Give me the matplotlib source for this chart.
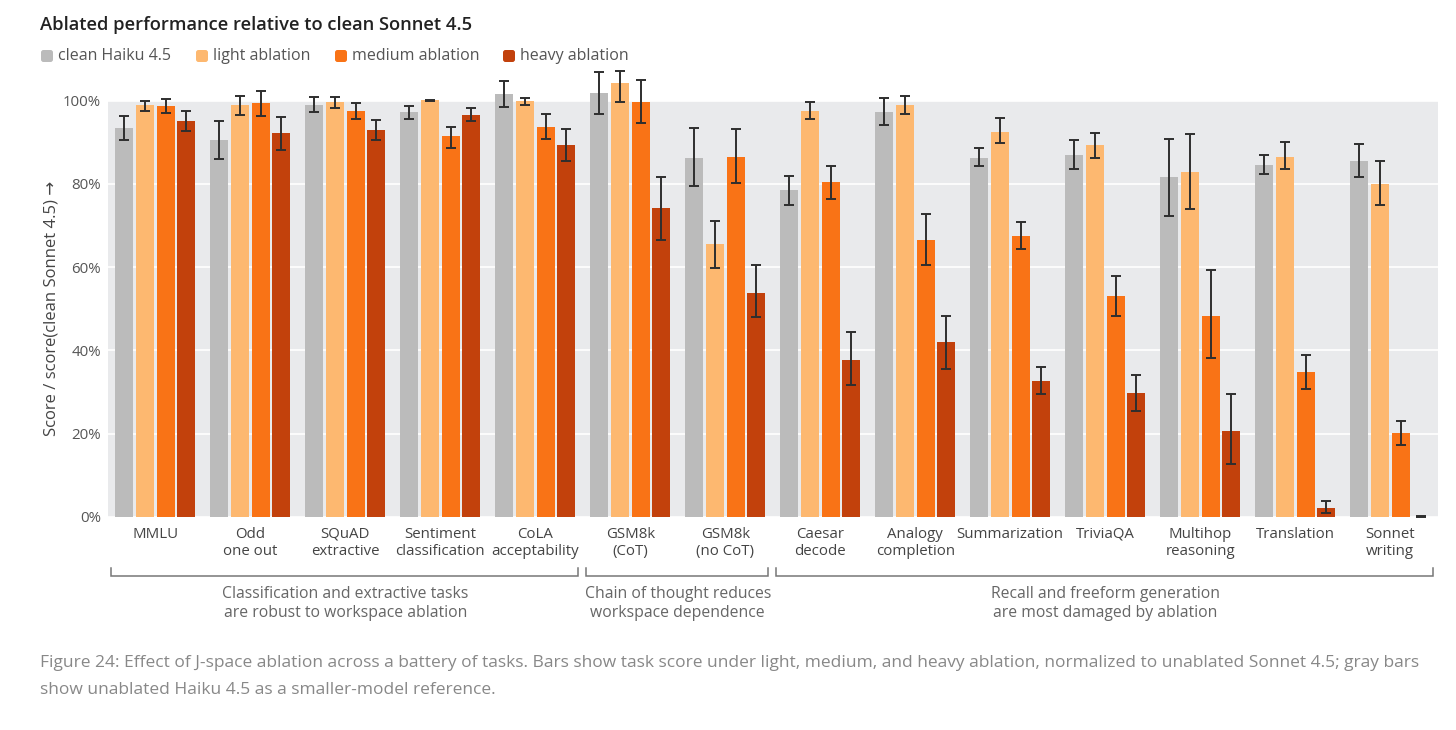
import matplotlib
matplotlib.use("Agg")
import matplotlib.pyplot as plt
from matplotlib.patches import FancyBboxPatch
import numpy as np

plt.rcParams['font.family'] = ['Open Sans', 'DejaVu Sans']

# ---------------- data ----------------
tasks = ["MMLU", "Odd\none out", "SQuAD\nextractive", "Sentiment\nclassification",
         "CoLA\nacceptability", "GSM8k\n(CoT)", "GSM8k\n(no CoT)", "Caesar\ndecode",
         "Analogy\ncompletion", "Summarization", "TriviaQA", "Multihop\nreasoning",
         "Translation", "Sonnet\nwriting"]

series_names = ["clean Haiku 4.5", "light ablation", "medium ablation", "heavy ablation"]
series_colors = ["#bbbbbb", "#fdb870", "#f97316", "#c2410c"]

# values in percent of clean Sonnet 4.5
haiku_val = [93.3, 90.5, 98.9, 97.2, 101.6, 101.8, 86.2, 78.4, 97.2, 86.3, 86.9, 81.7, 84.6, 85.4]
haiku_lo  = [90.5, 85.9, 97.2, 95.6, 98.4, 96.8, 79.5, 75.0, 94.0, 84.3, 83.6, 72.3, 82.4, 81.7]
haiku_hi  = [96.2, 95.1, 100.8, 98.6, 104.8, 106.9, 93.3, 81.9, 100.7, 88.7, 90.5, 90.8, 86.9, 89.6]

light_val = [98.9, 98.9, 99.6, 100.1, 99.9, 104.1, 65.5, 97.5, 98.9, 92.5, 89.2, 82.8, 86.5, 80.0]
light_lo  = [97.5, 96.4, 98.3, 100.0, 99.0, 99.6, 59.8, 95.5, 96.8, 89.8, 86.3, 74.0, 83.5, 75.0]
light_hi  = [100.0, 101.1, 100.8, 100.2, 100.7, 107.2, 71.1, 99.7, 101.0, 95.8, 92.3, 92.0, 90.0, 85.5]

medium_val = [98.7, 99.4, 97.5, 91.4, 93.7, 99.6, 86.5, 80.4, 66.5, 67.5, 53.1, 48.3, 34.7, 20.1]
medium_lo  = [96.9, 96.3, 95.6, 88.7, 90.7, 94.7, 80.3, 76.4, 60.6, 64.3, 48.3, 38.2, 30.7, 17.4]
medium_hi  = [100.4, 102.4, 99.4, 93.6, 96.7, 104.9, 93.2, 84.3, 72.7, 70.9, 57.9, 59.2, 39.0, 23.0]

heavy_val = [95.1, 92.2, 92.9, 96.6, 89.3, 74.1, 53.9, 37.7, 42.0, 32.7, 29.7, 20.7, 2.2, 0.0]
heavy_lo  = [92.7, 88.1, 90.4, 95.0, 85.5, 66.5, 48.0, 31.7, 35.5, 29.5, 25.5, 12.8, 0.9, 0.0]
heavy_hi  = [97.5, 96.0, 95.4, 98.3, 93.2, 81.7, 60.4, 44.3, 48.3, 36.1, 34.0, 29.6, 3.9, 0.3]

y_ticks = [0, 20, 40, 60, 80, 100]
y_tick_labels = ["0%", "20%", "40%", "60%", "80%", "100%"]

bracket_groups = [(0, 4), (5, 6), (7, 13)]
bracket_labels = ["Classification and extractive tasks\nare robust to workspace ablation",
                  "Chain of thought reduces\nworkspace dependence",
                  "Recall and freeform generation\nare most damaged by ablation"]

title = "Ablated performance relative to clean Sonnet 4.5"
ylabel = "Score / score(clean Sonnet 4.5) \u2192"
caption1 = ("Figure 24: Effect of J-space ablation across a battery of tasks. Bars show task score under "
            "light, medium, and heavy ablation, normalized to unablated Sonnet 4.5; gray bars")
caption2 = "show unablated Haiku 4.5 as a smaller-model reference."

# ---------------- figure ----------------
W, H = 1456, 730
fig = plt.figure(figsize=(W / 100, H / 100), dpi=100)
fig.patch.set_facecolor("white")

def fx(px):
    return px / W

def fy(py):
    return 1 - py / H

ax_left, ax_right, ax_top, ax_bottom = 107.7, 1437.7, 100.5, 517.0
ax = fig.add_axes([fx(ax_left), fy(ax_bottom), (ax_right - ax_left) / W, (ax_bottom - ax_top) / H])
ax.set_facecolor("#e9eaec")
for s in ax.spines.values():
    s.set_visible(False)

n = len(tasks)
x = np.arange(n)
bw = 0.19
step = 0.219
offsets = [-1.5 * step, -0.5 * step, 0.5 * step, 1.5 * step]
vals = [haiku_val, light_val, medium_val, heavy_val]
los = [haiku_lo, light_lo, medium_lo, heavy_lo]
his = [haiku_hi, light_hi, medium_hi, heavy_hi]

for i in range(4):
    v = np.array(vals[i])
    lo = np.array(los[i])
    hi = np.array(his[i])
    xs = x + offsets[i]
    ax.bar(xs, v, width=bw, color=series_colors[i], zorder=3, clip_on=False, linewidth=0)
    cont = ax.errorbar(xs, v, yerr=[v - lo, hi - v], fmt="none", ecolor="#2e2e2e",
                       elinewidth=1.4, capsize=3.5, capthick=1.4, zorder=4)
    for child in cont.get_children():
        child.set_clip_on(False)

ax.set_xlim(-0.5, n - 0.5)
ax.set_ylim(0, 100)
ax.set_yticks(y_ticks)
ax.set_yticklabels(y_tick_labels)
ax.yaxis.grid(True, color="white", linewidth=1.2, zorder=0)
ax.set_axisbelow(True)
ax.tick_params(axis="y", length=0, pad=5, labelsize=10.8, labelcolor="#555555")
ax.set_xticks(x)
ax.set_xticklabels(tasks, linespacing=1.2)
ax.tick_params(axis="x", length=0, pad=7, labelsize=10.8, labelcolor="#444444")
ax.set_ylabel(ylabel, fontsize=12, color="#444444", labelpad=2)

# brackets
px_per_axes = ax_bottom - ax_top
def ay(py):
    return (ax_bottom - py) / px_per_axes

trans = ax.get_xaxis_transform()
for (a, b), lab in zip(bracket_groups, bracket_labels):
    x0 = a - 0.47
    x1 = b + 0.45
    ax.plot([x0, x0, x1, x1], [ay(568), ay(576), ay(576), ay(568)], transform=trans,
            color="#777777", linewidth=1.1, clip_on=False, solid_joinstyle="miter")
    ax.text((a + b) / 2, ay(603.5), lab, transform=trans, ha="center", va="center",
            fontsize=11.3, color="#666666", linespacing=1.25)

# title
fig.text(fx(40), fy(25), title, fontsize=13.2, fontweight="semibold", color="#222222",
         ha="left", va="center")

# legend
leg_x = [41, 196, 335, 503]
for lx, name, col in zip(leg_x, series_names, series_colors):
    sq = 12
    patch = FancyBboxPatch((lx / 100, (H - 56 - sq / 2) / 100), sq / 100, sq / 100,
                           boxstyle="round,pad=0,rounding_size=0.025",
                           transform=fig.dpi_scale_trans, facecolor=col, edgecolor="none")
    fig.patches.append(patch)
    fig.text(fx(lx + 17), fy(56), name, fontsize=11.5, color="#555555", ha="left", va="center")

# caption
fig.text(fx(40), fy(663), caption1, fontsize=12.5, color="#888888", ha="left", va="center")
fig.text(fx(40), fy(690), caption2, fontsize=12.5, color="#888888", ha="left", va="center")

fig.savefig("out.png", dpi=100)
